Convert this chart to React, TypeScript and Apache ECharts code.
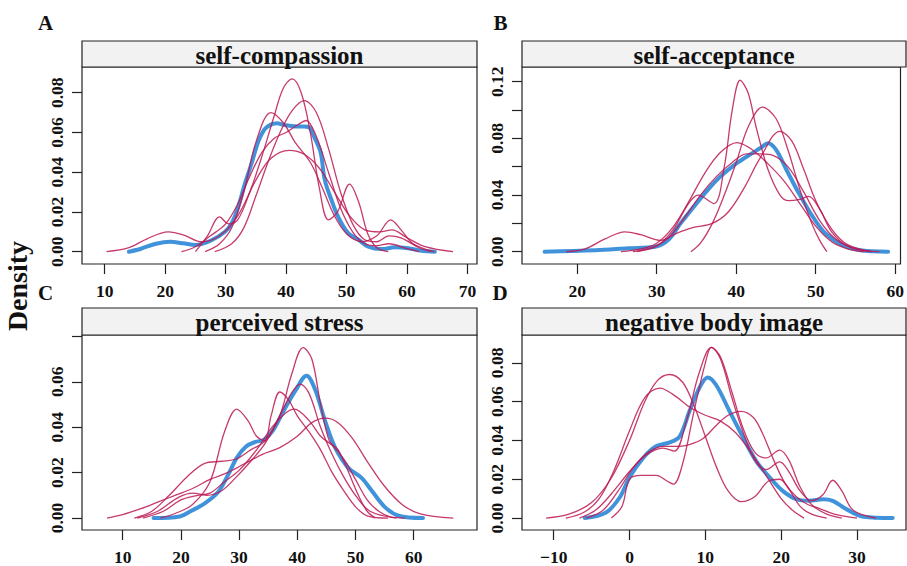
import React, { useEffect, useRef } from "react";
import * as echarts from "echarts";

// ---------- Panel A: self-compassion ----------
const scObserved = [[14,0],[16,0.0015],[18.5,0.004],[20.8,0.005],[23,0.0042],[25,0.0034],[27.5,0.0055],[29.9,0.010],[31,0.0143],[32.1,0.0227],[33.2,0.0344],[34.3,0.0445],[35.4,0.0554],[36.4,0.0615],[37.4,0.0638],[38.5,0.0646],[39.6,0.0638],[41.8,0.063],[43,0.063],[43.8,0.0626],[44.6,0.058],[45.7,0.050],[46.4,0.036],[47.5,0.026],[48.6,0.0176],[50.3,0.0092],[51.9,0.0062],[53.6,0.0025],[55.8,0.0013],[58,0.0022],[60.2,0.0017],[62.4,0.0005],[64.6,0]];
const scImp1 = [[10.3,0],[14,0.002],[17,0.0065],[20.5,0.010],[23,0.0085],[26,0.005],[29,0.008],[32,0.018],[35,0.036],[37.5,0.047],[40.5,0.051],[43,0.049],[45.5,0.042],[48,0.030],[50.5,0.018],[53,0.011],[55.5,0.010],[57.5,0.011],[60,0.007],[63,0.0025],[67.6,0]];
const scImp2 = [[25,0],[27,0.008],[29,0.0175],[30.5,0.014],[32,0.016],[34,0.030],[36,0.048],[38,0.068],[39.5,0.082],[41,0.087],[42.5,0.080],[44,0.060],[45.5,0.032],[47,0.016],[48.5,0.020],[50.5,0.034],[52,0.025],[53.5,0.009],[55,0.002],[56.9,0]];
const scImp3 = [[26.6,0],[29,0.004],[31,0.012],[33,0.030],[35,0.055],[37.5,0.070],[39.5,0.065],[41.5,0.055],[44,0.045],[46,0.032],[48,0.018],[50,0.009],[52.5,0.005],[55,0.008],[57.3,0.016],[59,0.011],[61,0.004],[64.5,0]];
const scImp4 = [[28.2,0],[31,0.004],[33,0.012],[35,0.028],[37,0.045],[39,0.060],[41,0.071],[43,0.076],[45,0.070],[47,0.052],[49,0.030],[51,0.014],[53,0.006],[55,0.005],[57,0.008],[59,0.007],[62,0.002],[64,0]];
const scImp5 = [[22.7,0],[25,0.0025],[27.5,0.008],[30,0.014],[32,0.024],[34,0.038],[36,0.050],[38,0.057],[40,0.060],[42,0.064],[43.3,0.066],[45,0.058],[47,0.040],[49,0.022],[51,0.010],[53,0.004],[55,0.003],[57,0.004],[60,0.0015],[62,0]];

// ---------- Panel B: self-acceptance ----------
const saObserved = [[15.9,0],[22.3,0.001],[26.4,0.0024],[29.8,0.0035],[31.4,0.008],[33,0.020],[34.7,0.032],[36.4,0.0435],[38,0.053],[39.7,0.061],[41.3,0.067],[43,0.073],[44,0.0765],[45,0.072],[46.3,0.058],[47.9,0.041],[49.6,0.025],[51.2,0.013],[53.3,0.0047],[55.4,0.0012],[59.1,0]];
const saImp1 = [[18.6,0],[21,0.002],[23.5,0.009],[26,0.014],[28,0.012],[30.5,0.008],[32.5,0.013],[34.5,0.017],[37,0.020],[39,0.028],[41,0.045],[43,0.066],[45.5,0.085],[47,0.078],[48.5,0.058],[50,0.036],[52,0.016],[54,0.005],[57,0]];
const saImp2 = [[27.5,0],[30,0.004],[32,0.015],[34,0.034],[35.2,0.040],[37.2,0.034],[38.5,0.060],[39.5,0.100],[40.5,0.121],[41.5,0.112],[42.5,0.088],[44,0.058],[45.5,0.040],[46.6,0.036],[48,0.037],[49.1,0.039],[50.5,0.030],[52,0.014],[54,0.004],[57,0]];
const saImp3 = [[34.3,0],[35.5,0.006],[37,0.020],[38.5,0.040],[40,0.063],[41.5,0.088],[43.3,0.102],[45,0.094],[46.5,0.072],[48,0.044],[49.5,0.020],[50.5,0.008],[51.4,0]];
const saImp4 = [[25.5,0],[28,0.002],[30,0.006],[32,0.017],[34,0.035],[36,0.055],[38,0.070],[40.1,0.077],[42,0.072],[44,0.062],[46,0.050],[48,0.034],[50,0.018],[52,0.007],[54,0.002],[56,0]];
const saImp5 = [[27,0],[29.5,0.003],[31.5,0.010],[33.5,0.024],[35.5,0.040],[37.5,0.053],[39.5,0.063],[41.3,0.069],[43,0.069],[44.6,0.068],[46.5,0.060],[48.5,0.042],[50.5,0.022],[52.5,0.009],[55,0.002],[58,0]];

// ---------- Panel C: perceived stress ----------
const psObserved = [[15.3,0],[19.8,0.0007],[21.8,0.0032],[24.1,0.0065],[26.4,0.0115],[28.1,0.019],[29.6,0.0265],[31.2,0.0315],[32.8,0.0335],[34.3,0.0345],[35.8,0.0385],[37.5,0.0465],[39.6,0.0557],[41.6,0.0627],[43,0.057],[44.8,0.0426],[46.5,0.031],[48.8,0.022],[51,0.0178],[52.8,0.012],[55.1,0.0047],[57.4,0.001],[61.6,0]];
const psImp1 = [[7.3,0],[10,0.0015],[13,0.004],[16,0.007],[19,0.010],[22,0.013],[25,0.017],[28,0.020],[31,0.024],[34,0.028],[37,0.031],[40,0.036],[42.5,0.042],[44.8,0.044],[47,0.042],[49.5,0.035],[52,0.025],[55,0.014],[58,0.006],[61,0.002],[66.8,0]];
const psImp2 = [[12,0],[15,0.003],[18,0.010],[21,0.018],[24,0.024],[27,0.025],[29.5,0.026],[32,0.030],[34.5,0.034],[37,0.045],[39,0.063],[41,0.075],[42.5,0.070],[44,0.050],[45.5,0.034],[47,0.030],[48.5,0.022],[50.5,0.010],[52,0.003],[53.4,0]];
const psImp3 = [[16.5,0],[19,0.002],[22,0.006],[25,0.016],[27.5,0.038],[29.6,0.048],[31.5,0.043],[33,0.036],[34.4,0.034],[35.5,0.045],[37,0.0555],[38.5,0.052],[40,0.045],[42,0.038],[44,0.030],[46,0.020],[48,0.012],[50,0.005],[52,0.001],[55.6,0]];
const psImp4 = [[12.5,0],[16,0.003],[19.5,0.009],[22,0.011],[24.5,0.010],[27,0.012],[29.5,0.018],[32,0.025],[34.5,0.033],[37,0.045],[39,0.055],[40.5,0.059],[42,0.055],[44,0.040],[46,0.028],[48,0.018],[50,0.010],[52.5,0.003],[57,0]];
const psImp5 = [[13.5,0],[17,0.003],[20,0.008],[22.5,0.0098],[25,0.011],[27.5,0.016],[30,0.021],[33,0.030],[36,0.041],[39.5,0.048],[42,0.043],[44,0.036],[46,0.032],[48,0.026],[50,0.017],[52,0.008],[54,0.003],[56,0.0005],[58.5,0]];

// ---------- Panel D: negative body image ----------
const nbObserved = [[-5.9,0],[-3.1,0.0029],[-1.3,0.0106],[0,0.021],[1.8,0.031],[3.5,0.037],[5.3,0.039],[6.6,0.042],[7.9,0.055],[9.2,0.067],[10.3,0.0725],[11.4,0.0687],[13.2,0.055],[15,0.0414],[16.7,0.0294],[18.5,0.0209],[20.2,0.014],[22,0.0097],[23.7,0.0089],[25.5,0.0097],[26.8,0.0089],[28.6,0.0046],[30.8,0.0007],[34.7,0]];
const nbImp1 = [[-11,0],[-8,0.002],[-5,0.008],[-2.5,0.020],[0,0.040],[2,0.060],[3.7,0.071],[5.3,0.074],[7,0.070],[8.5,0.058],[10,0.042],[11.5,0.026],[13,0.014],[14.7,0.0085],[16.5,0.011],[18.3,0.019],[19.8,0.020],[21,0.015],[22.5,0.006],[24,0.002],[26,0]];
const nbImp2 = [[-8.4,0],[-6,0.003],[-4,0.010],[-2,0.025],[0,0.045],[2,0.062],[4,0.067],[6,0.063],[8,0.057],[10,0.053],[12,0.050],[14,0.044],[16,0.034],[18,0.022],[20,0.010],[21.5,0.004],[23,0]];
const nbImp3 = [[-2.4,0],[-1,0.006],[0,0.020],[1.5,0.022],[3.5,0.022],[5,0.019],[5.8,0.0175],[7,0.028],[8.5,0.055],[10,0.080],[10.8,0.088],[12,0.082],[13.5,0.062],[15,0.044],[16.5,0.030],[18,0.025],[19.8,0.029],[21,0.024],[22.5,0.014],[24,0.009],[25.5,0.012],[26.8,0.0195],[28,0.014],[29.5,0.004],[32.5,0]];
const nbImp4 = [[-6.6,0],[-4.5,0.004],[-2.5,0.012],[0,0.024],[2,0.032],[4.4,0.036],[5.9,0.0345],[7.5,0.050],[9.2,0.075],[10.8,0.088],[12,0.083],[13.5,0.065],[15,0.046],[16.5,0.034],[18,0.031],[19.8,0.035],[21,0.030],[22.5,0.016],[24,0.007],[26,0.002],[28,0]];
const nbImp5 = [[-5.7,0],[-3.5,0.004],[-1.5,0.014],[0.5,0.026],[2.5,0.034],[4.5,0.037],[6.5,0.037],[8,0.038],[9.7,0.041],[11.5,0.048],[13,0.053],[14.7,0.055],[16.3,0.052],[17.5,0.044],[19,0.030],[20.5,0.018],[22,0.011],[23.5,0.007],[25,0.005],[27,0.002],[30,0]];

// ---------- titles and ticks ----------
const panelTitles = ["self-compassion", "self-acceptance", "perceived stress", "negative body image"];
const panelLetters = ["A", "B", "C", "D"];
const yAxisTitle = "Density";

const aXTicks = [10, 20, 30, 40, 50, 60, 70];
const bXTicks = [20, 30, 40, 50, 60];
const cXTicks = [10, 20, 30, 40, 50, 60];
const dXTicks = [-10, 0, 10, 20, 30];

const aYTicks = [0, 0.02, 0.04, 0.06, 0.08];
const aYLabels = [0, 0.02, 0.04, 0.06, 0.08];
const bYTicks = [0, 0.02, 0.04, 0.06, 0.08, 0.1, 0.12];
const bYLabels = [0, 0.04, 0.08, 0.12];
const cYTicks = [0, 0.02, 0.04, 0.06, 0.08];
const cYLabels = [0, 0.02, 0.04, 0.06];
const dYTicks = [0, 0.02, 0.04, 0.06, 0.08];
const dYLabels = [0, 0.02, 0.04, 0.06, 0.08];

const FONT = '"Liberation Serif", "Times New Roman", Times, serif';
const RED = "rgba(188,24,84,0.85)";
const BLUE = "rgba(30,128,212,0.85)";
const INK = "#222";

const panels = [
  { box: { left: 82, top: 67, width: 395, height: 197 }, strip: 41, xMin: 6.246, xMax: 71.57, yMin: -0.00619, yMax: 0.09293,
    xTicks: aXTicks, yTicks: aYTicks, yLabels: aYLabels, observed: scObserved, imputed: [scImp1, scImp2, scImp3, scImp4, scImp5] },
  { box: { left: 522, top: 67, width: 384, height: 197 }, strip: 41, xMin: 13.06, xMax: 60.66, yMin: -0.00868, yMax: 0.13037,
    xTicks: bXTicks, yTicks: bYTicks, yLabels: bYLabels, observed: saObserved, imputed: [saImp1, saImp2, saImp3, saImp4, saImp5] },
  { box: { left: 82, top: 335, width: 395, height: 196 }, strip: 308, xMin: 3.007, xMax: 70.88, yMin: -0.00526, yMax: 0.08059,
    xTicks: cXTicks, yTicks: cYTicks, yLabels: cYLabels, observed: psObserved, imputed: [psImp1, psImp2, psImp3, psImp4, psImp5] },
  { box: { left: 522, top: 335, width: 384, height: 196 }, strip: 308, xMin: -14.18, xMax: 36.46, yMin: -0.00615, yMax: 0.09436,
    xTicks: dXTicks, yTicks: dYTicks, yLabels: dYLabels, observed: nbObserved, imputed: [nbImp1, nbImp2, nbImp3, nbImp4, nbImp5] },
];

const letterPos = [[45.5, 23], [500.5, 23], [45.5, 293], [500, 293]];

export default function App() {
  const ref = useRef<HTMLDivElement>(null);
  useEffect(() => {
    if (!ref.current) return;
    const chart = echarts.init(ref.current, null, { renderer: "svg" });
    const grids: any[] = [];
    const xAxes: any[] = [];
    const yAxes: any[] = [];
    const series: any[] = [];
    const graphic: any[] = [];
    panels.forEach((p, i) => {
      grids.push({ ...p.box, show: true, borderColor: INK, borderWidth: 1.2, backgroundColor: "transparent", containLabel: false });
      xAxes.push({
        type: "value", gridIndex: i, min: p.xMin, max: p.xMax, position: "bottom",
        axisLine: { show: false, onZero: false }, splitLine: { show: false },
        axisTick: { show: true, inside: false, length: 10, customValues: p.xTicks, lineStyle: { color: INK, width: 1.2 } },
        axisLabel: { customValues: p.xTicks, margin: 18, fontFamily: FONT, fontWeight: "bold", fontSize: 17.5, color: "#111",
          formatter: (v: number) => (v < 0 ? "\u2212" + Math.abs(v) : String(v)) },
      });
      yAxes.push({
        type: "value", gridIndex: i, min: p.yMin, max: p.yMax, position: "left",
        axisLine: { show: false, onZero: false }, splitLine: { show: false },
        axisTick: { show: true, inside: false, length: 10, customValues: p.yTicks, lineStyle: { color: INK, width: 1.2 } },
        axisLabel: { customValues: p.yLabels, rotate: 90, margin: 16, fontFamily: FONT, fontWeight: "bold", fontSize: 17.5, color: "#111",
          formatter: (v: number) => v.toFixed(2) },
      });
      series.push({
        type: "line", xAxisIndex: i, yAxisIndex: i, data: p.observed, showSymbol: false, smooth: 0.35,
        lineStyle: { color: BLUE, width: 4, cap: "round", join: "round" }, silent: true, z: 2,
      });
      p.imputed.forEach((d) => {
        series.push({
          type: "line", xAxisIndex: i, yAxisIndex: i, data: d, showSymbol: false, smooth: 0.35,
          lineStyle: { color: RED, width: 1.3 }, silent: true, z: 3,
        });
      });
      graphic.push({
        type: "rect", shape: { x: p.box.left, y: p.strip, width: p.box.width, height: p.box.top - p.strip },
        style: { fill: "#f2f2f2", stroke: INK, lineWidth: 1.2 }, z: 10,
      });
      graphic.push({
        type: "text", x: p.box.left + p.box.width / 2, y: p.strip + (p.box.top - p.strip) / 2 + 1, z: 11,
        style: { text: panelTitles[i], font: `bold 25px ${FONT}`, fill: "#111", textAlign: "center", textVerticalAlign: "middle" },
      });
      graphic.push({
        type: "text", x: letterPos[i][0], y: letterPos[i][1], z: 11,
        style: { text: panelLetters[i], font: `bold 21px ${FONT}`, fill: "#111", textAlign: "center", textVerticalAlign: "middle" },
      });
    });
    graphic.push({
      type: "text", x: 17, y: 286, rotation: Math.PI / 2, z: 11,
      style: { text: yAxisTitle, font: `bold 28px ${FONT}`, fill: "#111", textAlign: "center", textVerticalAlign: "middle" },
    });
    chart.setOption({
      animation: false,
      backgroundColor: "#fff",
      grid: grids,
      xAxis: xAxes,
      yAxis: yAxes,
      series,
      graphic,
    });
    return () => chart.dispose();
  }, []);
  return <div ref={ref} style={{ position: "fixed", left: 0, top: 0, width: 907, height: 566 }} />;
}
